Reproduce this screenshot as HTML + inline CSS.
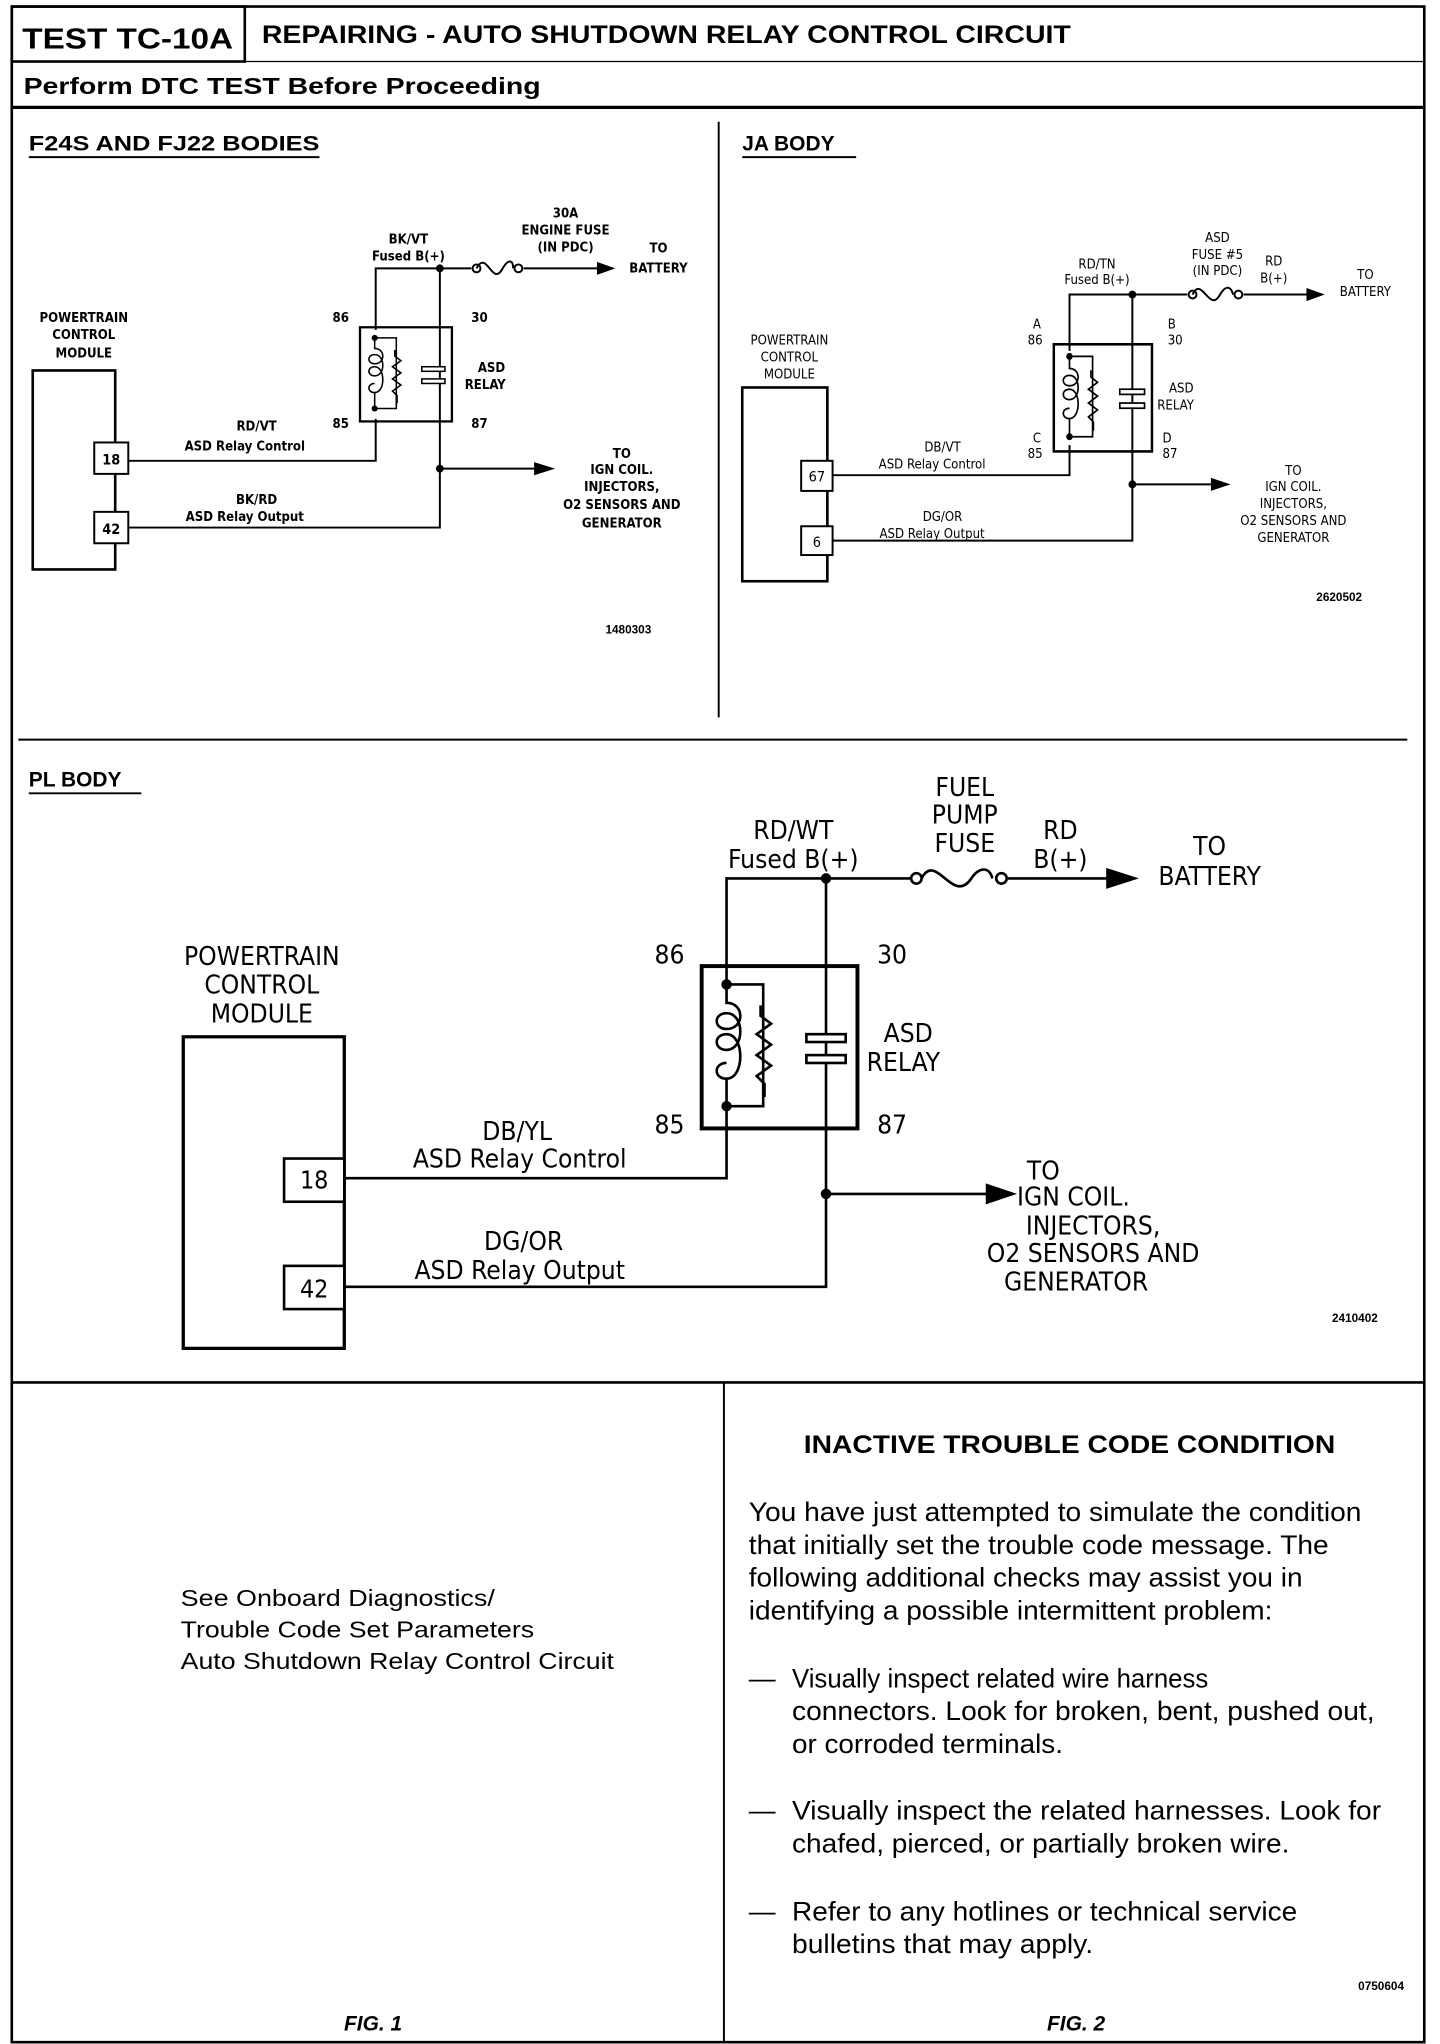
<!DOCTYPE html>
<html><head><meta charset="utf-8"><style>
html,body{margin:0;padding:0;background:#fff}
svg{display:block}
.d{font-family:"Liberation Sans Narrow","DejaVu Sans Condensed","Liberation Sans",sans-serif;fill:#000}
.h{font-family:"Liberation Sans",sans-serif;font-weight:bold;fill:#000}
.b{font-family:"Liberation Sans",sans-serif;fill:#000}
</style></head><body>
<svg width="1440" height="2044" viewBox="0 0 1100 1561.4" xmlns="http://www.w3.org/2000/svg">
<defs>
<g id="relay">
<rect x="0" y="0" width="119" height="124" fill="none" stroke="#000" stroke-width="3"/>
<path d="M19,14 H47 V107 H19" fill="none" stroke="#000" stroke-width="2"/>
<path d="M19,14 V28 C33,28 33,48 19,48 C9,48 9,36 19,36 C33,36 33,64 19,64 C9,64 9,52 19,52 C33,52 33,86 19,86 C9,86 9,74 19,74 M19,86 V107" fill="none" stroke="#000" stroke-width="2"/>
<path d="M45,30 V38 L53,44 L42,52 L53,60 L42,68 L53,76 L42,84 L48,90 V100" fill="none" stroke="#000" stroke-width="2"/>
<circle cx="19" cy="14" r="4"/><circle cx="19" cy="107" r="4"/>
<rect x="80" y="52" width="30" height="6" fill="#fff" stroke="#000" stroke-width="2"/>
<rect x="80" y="68" width="30" height="6" fill="#fff" stroke="#000" stroke-width="2"/>
</g>
</defs>
<!-- frame -->
<rect x="9" y="5" width="1079" height="1555" fill="none" stroke="#000" stroke-width="2"/>
<rect x="9" y="5" width="178" height="42" fill="none" stroke="#000" stroke-width="2"/>
<line x1="9" y1="47" x2="1088" y2="47" stroke="#000" stroke-width="1"/>
<text class="h" x="17" y="37" font-size="22" textLength="161" lengthAdjust="spacingAndGlyphs">TEST TC-10A</text>
<text class="h" x="200" y="33" font-size="19" textLength="618" lengthAdjust="spacingAndGlyphs">REPAIRING - AUTO SHUTDOWN RELAY CONTROL CIRCUIT</text>
<text class="h" x="18" y="72" font-size="18" textLength="395" lengthAdjust="spacingAndGlyphs">Perform DTC TEST Before Proceeding</text>
<line x1="9" y1="82" x2="1088" y2="82" stroke="#000" stroke-width="2.5"/>
<line x1="549" y1="93" x2="549" y2="548" stroke="#000" stroke-width="1.5"/>
<line x1="14" y1="565" x2="1075" y2="565" stroke="#000" stroke-width="1.5"/>
<line x1="9" y1="1056" x2="1088" y2="1056" stroke="#000" stroke-width="2"/>
<line x1="553" y1="1056" x2="553" y2="1560" stroke="#000" stroke-width="1.5"/>

<!-- Diagram 1 -->
<text class="h" x="22" y="115" font-size="16" textLength="222" lengthAdjust="spacingAndGlyphs">F24S AND FJ22 BODIES</text>
<line x1="22" y1="120" x2="244" y2="120" stroke="#000" stroke-width="1.5"/>
<g class="d" font-size="10" text-anchor="middle" font-weight="bold">
<text x="64" y="246">POWERTRAIN</text><text x="64" y="259">CONTROL</text><text x="64" y="273">MODULE</text>
</g>
<rect x="25" y="283" width="63" height="152" fill="none" stroke="#000" stroke-width="2"/>
<rect x="72" y="338" width="26" height="24" fill="#fff" stroke="#000" stroke-width="1.5"/>
<rect x="72" y="391" width="26" height="24" fill="#fff" stroke="#000" stroke-width="1.5"/>
<text class="d" x="85" y="355" font-size="11" text-anchor="middle" font-weight="bold">18</text>
<text class="d" x="85" y="408" font-size="11" text-anchor="middle" font-weight="bold">42</text>
<g fill="none" stroke="#000" stroke-width="1.5">
<path d="M98,352 H287 V320"/>
<path d="M98,403 H336 V205"/>
<path d="M287,252 V205 H360"/>
<path d="M364,205 C372,190 376,220 384,205 C388,198 392,198 392,205"/>
<path d="M400,205 H458"/>
<path d="M336,358 H408"/>
<circle cx="364" cy="205" r="3"/><circle cx="396" cy="205" r="3"/>
</g>
<path d="M456,200 L470,205 L456,210 Z"/><path d="M408,353 L424,358 L408,363 Z"/>
<circle cx="336" cy="205" r="3"/><circle cx="336" cy="358" r="3"/>
<g transform="translate(275,250) scale(0.59,0.58)"><use href="#relay"/></g>
<g class="d" font-size="10" font-weight="bold">
<text x="254" y="246">86</text><text x="360" y="246">30</text><text x="254" y="327">85</text><text x="360" y="327">87</text>
<text x="365" y="284">ASD</text><text x="355" y="297">RELAY</text>
<text x="196" y="329" text-anchor="middle">RD/VT</text><text x="187" y="344" text-anchor="middle">ASD Relay Control</text>
<text x="196" y="385" text-anchor="middle">BK/RD</text><text x="187" y="398" text-anchor="middle">ASD Relay Output</text>
<text x="312" y="186" text-anchor="middle">BK/VT</text><text x="312" y="199" text-anchor="middle">Fused B(+)</text>
<text x="432" y="166" text-anchor="middle">30A</text><text x="432" y="179" text-anchor="middle">ENGINE FUSE</text><text x="432" y="192" text-anchor="middle">(IN PDC)</text>
<text x="503" y="193" text-anchor="middle">TO</text><text x="503" y="208" text-anchor="middle">BATTERY</text>
<text x="475" y="350" text-anchor="middle">TO</text><text x="475" y="362" text-anchor="middle">IGN COIL.</text><text x="475" y="375" text-anchor="middle">INJECTORS,</text><text x="475" y="389" text-anchor="middle">O2 SENSORS AND</text><text x="475" y="403" text-anchor="middle">GENERATOR</text>
</g>
<text class="h" x="480" y="484" font-size="9" text-anchor="middle">1480303</text>

<!-- Diagram 2 -->
<text class="h" x="567" y="115" font-size="16">JA BODY</text>
<line x1="567" y1="120" x2="654" y2="120" stroke="#000" stroke-width="1.5"/>
<g class="d" font-size="10" text-anchor="middle">
<text x="603" y="263">POWERTRAIN</text><text x="603" y="276">CONTROL</text><text x="603" y="289">MODULE</text>
</g>
<rect x="567" y="296" width="65" height="148" fill="none" stroke="#000" stroke-width="2"/>
<rect x="612" y="352" width="24" height="23" fill="#fff" stroke="#000" stroke-width="1.5"/>
<rect x="612" y="402" width="24" height="22" fill="#fff" stroke="#000" stroke-width="1.5"/>
<text class="d" x="624" y="368" font-size="11" text-anchor="middle">67</text>
<text class="d" x="624" y="418" font-size="11" text-anchor="middle">6</text>
<g fill="none" stroke="#000" stroke-width="1.5">
<path d="M636,363 H817 V340"/>
<path d="M636,413 H865 V225"/>
<path d="M817,268 V225 H907"/>
<path d="M911,225 C918,210 924,240 932,225 C936,218 940,218 942,225"/>
<path d="M950,225 H1000"/>
<path d="M865,370 H925"/>
<circle cx="911" cy="225" r="3"/><circle cx="946" cy="225" r="3"/>
</g>
<path d="M998,220 L1012,225 L998,230 Z"/><path d="M925,365 L940,370 L925,375 Z"/>
<circle cx="865" cy="225" r="3"/><circle cx="865" cy="370" r="3"/>
<g transform="translate(805,263) scale(0.63,0.66)"><use href="#relay"/></g>
<g class="d" font-size="10">
<text x="789" y="251">A</text><text x="785" y="263">86</text><text x="892" y="251">B</text><text x="892" y="263">30</text>
<text x="789" y="338">C</text><text x="785" y="350">85</text><text x="888" y="338">D</text><text x="888" y="350">87</text>
<text x="893" y="300">ASD</text><text x="884" y="313">RELAY</text>
<text x="720" y="345" text-anchor="middle">DB/VT</text><text x="712" y="358" text-anchor="middle">ASD Relay Control</text>
<text x="720" y="398" text-anchor="middle">DG/OR</text><text x="712" y="411" text-anchor="middle">ASD Relay Output</text>
<text x="838" y="205" text-anchor="middle">RD/TN</text><text x="838" y="217" text-anchor="middle">Fused B(+)</text>
<text x="930" y="185" text-anchor="middle">ASD</text><text x="930" y="198" text-anchor="middle">FUSE #5</text><text x="930" y="210" text-anchor="middle">(IN PDC)</text>
<text x="973" y="203" text-anchor="middle">RD</text><text x="973" y="216" text-anchor="middle">B(+)</text>
<text x="1043" y="213" text-anchor="middle">TO</text><text x="1043" y="226" text-anchor="middle">BATTERY</text>
<text x="988" y="363" text-anchor="middle">TO</text><text x="988" y="375" text-anchor="middle">IGN COIL.</text><text x="988" y="388" text-anchor="middle">INJECTORS,</text><text x="988" y="401" text-anchor="middle">O2 SENSORS AND</text><text x="988" y="414" text-anchor="middle">GENERATOR</text>
</g>
<text class="h" x="1023" y="459" font-size="9" text-anchor="middle">2620502</text>

<!-- Diagram 3 -->
<text class="h" x="22" y="601" font-size="16">PL BODY</text>
<line x1="22" y1="606" x2="108" y2="606" stroke="#000" stroke-width="1.5"/>
<g class="d" font-size="20" text-anchor="middle">
<text x="200" y="737">POWERTRAIN</text><text x="200" y="759">CONTROL</text><text x="200" y="781">MODULE</text>
</g>
<rect x="140" y="792" width="123" height="238" fill="none" stroke="#000" stroke-width="2.5"/>
<rect x="217" y="885" width="46" height="33" fill="#fff" stroke="#000" stroke-width="2"/>
<rect x="217" y="967" width="46" height="33" fill="#fff" stroke="#000" stroke-width="2"/>
<text class="d" x="240" y="908" font-size="19" text-anchor="middle">18</text>
<text class="d" x="240" y="991" font-size="19" text-anchor="middle">42</text>
<g fill="none" stroke="#000" stroke-width="2">
<path d="M263,900 H555 V845"/>
<path d="M263,983 H631 V671"/>
<path d="M555,752 V671 H696"/>
<path d="M704,671 C715,650 728,692 742,671 C748,662 756,662 758,671"/>
<path d="M770,671 H848"/>
<path d="M631,912 H755"/>
<circle cx="700" cy="671" r="4" fill="#fff"/><circle cx="765" cy="671" r="4" fill="#fff"/>
</g>
<path d="M845,663 L870,671 L845,679 Z"/><path d="M753,904 L777,912 L753,920 Z"/>
<circle cx="631" cy="671" r="4"/><circle cx="631" cy="912" r="4"/>
<g transform="translate(536,738)"><use href="#relay"/></g>
<g class="d" font-size="20">
<text x="500" y="736">86</text><text x="670" y="736">30</text><text x="500" y="866">85</text><text x="670" y="866">87</text>
<text x="675" y="796">ASD</text><text x="662" y="818">RELAY</text>
<text x="395" y="871" text-anchor="middle">DB/YL</text><text x="397" y="892" text-anchor="middle">ASD Relay Control</text>
<text x="400" y="955" text-anchor="middle">DG/OR</text><text x="397" y="977" text-anchor="middle">ASD Relay Output</text>
<text x="606" y="641" text-anchor="middle">RD/WT</text><text x="606" y="663" text-anchor="middle">Fused B(+)</text>
<text x="737" y="608" text-anchor="middle">FUEL</text><text x="737" y="629" text-anchor="middle">PUMP</text><text x="737" y="651" text-anchor="middle">FUSE</text>
<text x="810" y="641" text-anchor="middle">RD</text><text x="810" y="663" text-anchor="middle">B(+)</text>
<text x="924" y="653" text-anchor="middle">TO</text><text x="924" y="676" text-anchor="middle">BATTERY</text>
<text x="797" y="901" text-anchor="middle">TO</text><text x="820" y="921" text-anchor="middle">IGN COIL.</text><text x="835" y="943" text-anchor="middle">INJECTORS,</text><text x="835" y="964" text-anchor="middle">O2 SENSORS AND</text><text x="822" y="986" text-anchor="middle">GENERATOR</text>
</g>
<text class="h" x="1035" y="1010" font-size="9" text-anchor="middle">2410402</text>

<!-- Bottom -->
<g class="b" font-size="18" lengthAdjust="spacingAndGlyphs">
<text x="138" y="1227" textLength="240" lengthAdjust="spacingAndGlyphs">See Onboard Diagnostics/</text>
<text x="138" y="1251" textLength="270" lengthAdjust="spacingAndGlyphs">Trouble Code Set Parameters</text>
<text x="138" y="1275" textLength="331" lengthAdjust="spacingAndGlyphs">Auto Shutdown Relay Control Circuit</text>
</g>
<text class="h" x="285" y="1551" font-size="16" text-anchor="middle" font-style="italic">FIG. 1</text>
<text class="h" x="822" y="1551" font-size="16" text-anchor="middle" font-style="italic">FIG. 2</text>
<text class="h" x="614" y="1110" font-size="19" textLength="406" lengthAdjust="spacingAndGlyphs">INACTIVE TROUBLE CODE CONDITION</text>
<g class="b" font-size="20.5">
<text x="572" y="1162" textLength="468" lengthAdjust="spacingAndGlyphs">You have just attempted to simulate the condition</text>
<text x="572" y="1187" textLength="443" lengthAdjust="spacingAndGlyphs">that initially set the trouble code message. The</text>
<text x="572" y="1212" textLength="423" lengthAdjust="spacingAndGlyphs">following additional checks may assist you in</text>
<text x="572" y="1237" textLength="400" lengthAdjust="spacingAndGlyphs">identifying a possible intermittent problem:</text>
<text x="572" y="1289">—</text>
<text x="605" y="1289" textLength="318" lengthAdjust="spacingAndGlyphs">Visually inspect related wire harness</text>
<text x="605" y="1314" textLength="445" lengthAdjust="spacingAndGlyphs">connectors. Look for broken, bent, pushed out,</text>
<text x="605" y="1339" textLength="207" lengthAdjust="spacingAndGlyphs">or corroded terminals.</text>
<text x="572" y="1390">—</text>
<text x="605" y="1390" textLength="450" lengthAdjust="spacingAndGlyphs">Visually inspect the related harnesses. Look for</text>
<text x="605" y="1415" textLength="380" lengthAdjust="spacingAndGlyphs">chafed, pierced, or partially broken wire.</text>
<text x="572" y="1467">—</text>
<text x="605" y="1467" textLength="386" lengthAdjust="spacingAndGlyphs">Refer to any hotlines or technical service</text>
<text x="605" y="1492" textLength="230" lengthAdjust="spacingAndGlyphs">bulletins that may apply.</text>
</g>
<text class="h" x="1055" y="1520" font-size="9" text-anchor="middle">0750604</text>
</svg>
</body></html>
